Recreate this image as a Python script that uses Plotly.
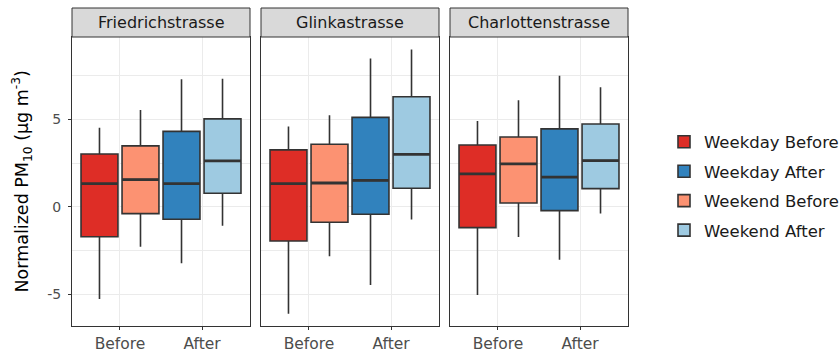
import plotly.graph_objects as go

# ---- data ----
stations = ["Friedrichstrasse", "Glinkastrasse", "Charlottenstrasse"]
groups = ["Weekday Before", "Weekday After", "Weekend Before", "Weekend After"]
colors = ["#de2d26", "#3182bd", "#fc9272", "#9ecae1"]
slot = [0, 2, 1, 3]  # drawing order within a panel
period_labels = ["Before", "After"]
y_ticks = [-5, 0, 5]

upper = {
    "Friedrichstrasse": [4.53, 7.30, 5.54, 7.33],
    "Glinkastrasse": [4.59, 8.48, 5.24, 8.99],
    "Charlottenstrasse": [4.91, 7.49, 6.10, 6.84],
}
q3 = {
    "Friedrichstrasse": [3.03, 4.32, 3.49, 5.03],
    "Glinkastrasse": [3.26, 5.12, 3.58, 6.30],
    "Charlottenstrasse": [3.54, 4.46, 4.00, 4.74],
}
median = {
    "Friedrichstrasse": [1.33, 1.33, 1.56, 2.63],
    "Glinkastrasse": [1.33, 1.52, 1.37, 3.01],
    "Charlottenstrasse": [1.89, 1.71, 2.46, 2.65],
}
q1 = {
    "Friedrichstrasse": [-1.70, -0.70, -0.38, 0.78],
    "Glinkastrasse": [-1.94, -0.42, -0.87, 1.07],
    "Charlottenstrasse": [-1.18, -0.21, 0.23, 1.05],
}
lower = {
    "Friedrichstrasse": [-5.26, -3.22, -2.27, -1.07],
    "Glinkastrasse": [-6.10, -4.46, -2.82, -0.72],
    "Charlottenstrasse": [-5.03, -3.01, -1.71, -0.38],
}

W, H = 840, 351
font = "DejaVu Sans"
dark = "#333333"
grid = "#ebebeb"
box_w = 0.45
start, step = 0.75, 0.5

panels_px = [(72, 250), (261, 439), (450, 628)]
plot_top, plot_bot = 37, 326
strip_top = 8

fig = go.Figure()
for si, st in enumerate(stations):
    xa = "x" if si == 0 else f"x{si+1}"
    ya = "y" if si == 0 else f"y{si+1}"
    for gi, g in enumerate(groups):
        pos = start + step * slot[gi]
        fig.add_trace(go.Box(
            x=[pos], q1=[q1[st][gi]], median=[median[st][gi]], q3=[q3[st][gi]],
            lowerfence=[lower[st][gi]], upperfence=[upper[st][gi]],
            width=box_w, whiskerwidth=0, boxpoints=False,
            fillcolor=colors[gi], line=dict(color=dark, width=1.6),
            name=g, legendgroup=g, showlegend=(si == 0),
            xaxis=xa, yaxis=ya, hoverinfo="skip",
        ))
        fig.add_trace(go.Scatter(
            x=[pos - box_w / 2, pos + box_w / 2],
            y=[median[st][gi], median[st][gi]],
            mode="lines", line=dict(color=dark, width=2.8),
            legendgroup=g, showlegend=False, xaxis=xa, yaxis=ya, hoverinfo="skip",
        ))

x_common = dict(
    range=[0.415, 2.585], tickmode="array", tickvals=[1, 2], ticktext=period_labels,
    showgrid=True, gridcolor=grid, gridwidth=1, zeroline=False,
    showline=True, mirror=True, linecolor=dark, linewidth=1,
    ticks="outside", ticklen=3, tickcolor=dark,
    tickfont=dict(family=font, size=15.5, color="#4d4d4d"),
)
ydom = [(H - plot_bot) / H, (H - plot_top) / H]
y_common = dict(
    domain=ydom, range=[-6.8, 9.71], tickmode="array", tickvals=y_ticks,
    ticktext=[str(v) for v in y_ticks], showgrid=True, gridcolor=grid, gridwidth=1,
    minor=dict(tickmode="array", tickvals=[-2.5, 2.5, 7.5], showgrid=True,
               gridcolor=grid, gridwidth=0.6, ticks=""),
    zeroline=False, showline=True, mirror=True, linecolor=dark, linewidth=1,
    ticks="outside", ticklen=3, tickcolor=dark, ticklabelstandoff=4,
    tickfont=dict(family=font, size=14, color="#4d4d4d"),
)
layout = dict(
    width=W, height=H, margin=dict(l=0, r=0, t=0, b=0, autoexpand=False),
    paper_bgcolor="white", plot_bgcolor="white",
    font=dict(family=font),
    legend=dict(x=664 / W, y=0.47, xanchor="left", yanchor="middle",
                xref="container", yref="container",
                font=dict(family=font, size=16.5, color="#1a1a1a"),
                tracegroupgap=5, traceorder="grouped", bgcolor="rgba(0,0,0,0)"),
    showlegend=True,
)
shapes = []
annotations = []
for si, (x0, x1) in enumerate(panels_px):
    xkey = "xaxis" if si == 0 else f"xaxis{si+1}"
    ykey = "yaxis" if si == 0 else f"yaxis{si+1}"
    ax = dict(x_common)
    ax["domain"] = [x0 / W, x1 / W]
    ax["anchor"] = "y" if si == 0 else f"y{si+1}"
    layout[xkey] = ax
    ay = dict(y_common)
    ay["anchor"] = "x" if si == 0 else f"x{si+1}"
    if si > 0:
        ay["showticklabels"] = False
        ay["ticks"] = ""
        ay["matches"] = "y"
    layout[ykey] = ay
    shapes.append(dict(type="rect", xref="paper", yref="paper",
                       x0=x0 / W, x1=x1 / W, y0=(H - plot_top) / H, y1=(H - strip_top) / H,
                       fillcolor="#d9d9d9", line=dict(color=dark, width=1), layer="above"))
    annotations.append(dict(text=stations[si], xref="paper", yref="paper",
                            x=(x0 + x1) / 2 / W, y=(H - (plot_top + strip_top) / 2) / H,
                            showarrow=False, xanchor="center", yanchor="middle",
                            font=dict(family=font, size=16, color="#1a1a1a")))

annotations.append(dict(text="Normalized PM<sub>10</sub> (µg m<sup>-3</sup>)",
                        xref="paper", yref="paper", x=22 / W,
                        y=(H - (plot_top + plot_bot) / 2) / H, textangle=-90,
                        showarrow=False, xanchor="center", yanchor="middle",
                        font=dict(family=font, size=17.5, color="black")))
layout["shapes"] = shapes
layout["annotations"] = annotations
fig.update_layout(**layout)

fig.write_html("out.html", config={"displayModeBar": False},
               post_script="document.body.style.margin='0px';")
